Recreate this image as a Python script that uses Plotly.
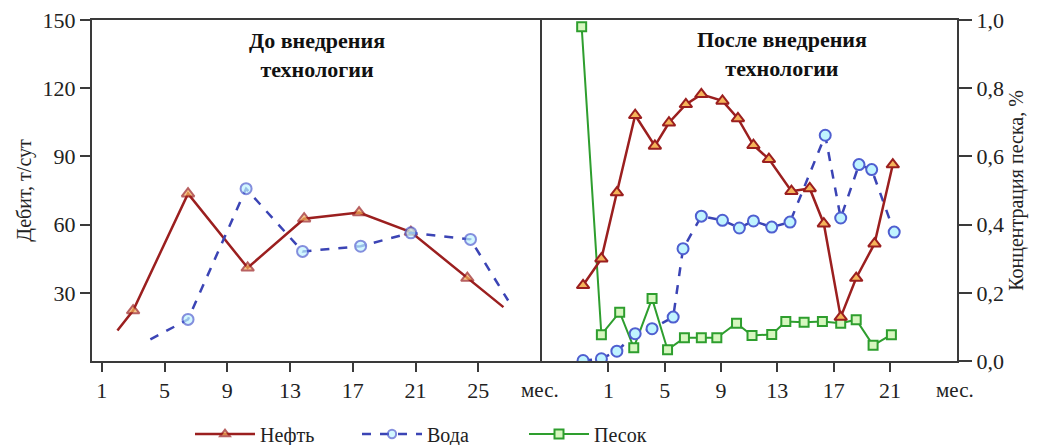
import plotly.graph_objects as go

# ---------------- data ----------------
left_months_oil = [2.0, 3.0, 6.5, 10.3, 13.9, 17.4, 20.7, 24.3, 26.6]
left_oil = [13.4, 22.2, 73.6, 41.0, 62.6, 65.3, 56.7, 36.5, 23.7]

left_months_water = [4.1, 6.5, 10.2, 13.8, 17.5, 20.7, 24.5, 26.9]
left_water = [9.5, 18.3, 75.8, 48.2, 50.5, 56.4, 53.5, 26.6]

right_months_oil = [-0.8, 0.5, 1.6, 2.9, 4.3, 5.3, 6.5, 7.6, 9.1, 10.2, 11.3, 12.4,
                    14.0, 15.3, 16.3, 17.5, 18.6, 19.9, 21.2]
right_oil = [33.3, 45.0, 74.1, 108.1, 94.6, 104.8, 112.9, 117.3, 114.4, 106.7, 94.9,
             88.8, 74.7, 75.9, 60.4, 19.3, 36.5, 51.6, 86.4]

right_months_water = [-0.8, 0.5, 1.6, 2.9, 4.1, 5.6, 6.3, 7.6, 9.1, 10.3, 11.3, 12.6,
                      13.9, 16.4, 17.5, 18.8, 19.7, 21.3]
right_water = [0.2, 1.0, 4.3, 12.0, 14.2, 19.3, 49.4, 63.7, 61.9, 58.5, 61.6, 58.9,
               61.1, 99.3, 62.9, 86.4, 84.2, 56.7]

sand_months = [-0.9, 0.5, 1.8, 2.8, 4.1, 5.2, 6.4, 7.6, 8.7, 10.1, 11.2, 12.6, 13.6,
               14.9, 16.2, 17.5, 18.6, 19.8, 21.1]
sand = [0.98, 0.077, 0.143, 0.039, 0.183, 0.033, 0.068, 0.068, 0.068, 0.111, 0.075,
        0.078, 0.116, 0.114, 0.116, 0.111, 0.121, 0.046, 0.077]

month_ticks_left = [1, 5, 9, 13, 17, 21, 25]
month_ticks_right = [1, 5, 9, 13, 17, 21]
rate_ticks = [30, 60, 90, 120, 150]
conc_ticks = [0.0, 0.2, 0.4, 0.6, 0.8, 1.0]
conc_labels = ["0,0", "0,2", "0,4", "0,6", "0,8", "1,0"]

# ---------------- styles ----------------
SERIF = "Liberation Serif, Times New Roman, serif"
OIL_C = "#9b1f1f"
OIL_FILL = "#f5b45a"
WAT_C = "#3b44b5"
WAT_MK = "#4f5fd0"
WAT_FILL = "#c0f4ff"
SAND_C = "#2e9e2e"
SAND_FILL = "#d6f7bf"
AX_C = "#3a3a3a"
TXT = "#222"

def end_sizes(n, s):
    return [0] + [s] * (n - 2) + [0]

fig = go.Figure()

# left panel
fig.add_trace(go.Scatter(
    x=left_months_oil, y=left_oil, xaxis="x", yaxis="y", mode="lines+markers",
    name="Нефть", legendgroup="oil", showlegend=True,
    line=dict(color=OIL_C, width=2.5),
    marker=dict(symbol="triangle-up", size=end_sizes(len(left_oil), 11), color=OIL_FILL,
                line=dict(color=OIL_C, width=2)),
))
fig.add_trace(go.Scatter(
    x=left_months_water, y=left_water, xaxis="x", yaxis="y", mode="lines+markers",
    name="Вода", legendgroup="water", showlegend=True,
    line=dict(color=WAT_C, width=2.5, dash="dash"),
    marker=dict(symbol="circle", size=end_sizes(len(left_water), 11), color=WAT_FILL,
                line=dict(color=WAT_MK, width=2)),
))

# right panel
fig.add_trace(go.Scatter(
    x=sand_months, y=sand, xaxis="x2", yaxis="y2", mode="lines+markers",
    name="Песок", legendgroup="sand", showlegend=True,
    line=dict(color=SAND_C, width=2),
    marker=dict(symbol="square", size=9, color=SAND_FILL,
                line=dict(color=SAND_C, width=2)),
))
fig.add_trace(go.Scatter(
    x=right_months_water, y=right_water, xaxis="x2", yaxis="y3", mode="lines+markers",
    name="Вода", legendgroup="water", showlegend=False,
    line=dict(color=WAT_C, width=2.5, dash="dash"),
    marker=dict(symbol="circle", size=11, color=WAT_FILL,
                line=dict(color=WAT_MK, width=2)),
))
fig.add_trace(go.Scatter(
    x=right_months_oil, y=right_oil, xaxis="x2", yaxis="y3", mode="lines+markers",
    name="Нефть", legendgroup="oil", showlegend=False,
    line=dict(color=OIL_C, width=2.5),
    marker=dict(symbol="triangle-up", size=11, color=OIL_FILL,
                line=dict(color=OIL_C, width=2)),
))

# page body has an 8px default margin: plot area in screen px is 92..957 x 20..361
split = (540 - 92) / 865.0
tickfont = dict(family=SERIF, size=22, color=TXT)

def px_x(px):
    return (px - 92) / 865.0

def px_y(py):
    return (361 - py) / 341.0

fig.update_layout(
    width=1032, height=437,
    margin=dict(l=84, r=83, t=12, b=84, autoexpand=False),
    paper_bgcolor="white", plot_bgcolor="white",
    font=dict(family=SERIF, size=20, color=TXT),
    xaxis=dict(domain=[0, split], range=[0.38, 28.93], anchor="y", automargin=False,
               tickvals=month_ticks_left, ticks="outside", ticklen=9, tickwidth=2,
               tickcolor=AX_C, showline=True, linecolor=AX_C, linewidth=2,
               mirror=True, showgrid=False, zeroline=False, tickfont=tickfont,
               ticklabeloverflow="allow"),
    xaxis2=dict(domain=[split, 1], range=[-3.86, 25.76], anchor="y2", automargin=False,
                tickvals=month_ticks_right, ticks="outside", ticklen=9, tickwidth=2,
                tickcolor=AX_C, showline=True, linecolor=AX_C, linewidth=2,
                mirror=True, showgrid=False, zeroline=False, tickfont=tickfont,
                ticklabeloverflow="allow"),
    yaxis=dict(range=[0, 150], anchor="x", automargin=False, tickvals=rate_ticks,
               ticks="outside", ticklen=10, tickwidth=2, tickcolor=AX_C, showline=True,
               linecolor=AX_C, linewidth=2, mirror=True, showgrid=False, zeroline=False,
               tickfont=tickfont, ticklabeloverflow="allow",
               title=dict(text="Дебит, т/сут", font=dict(family=SERIF, size=20, color=TXT),
                          standoff=6)),
    yaxis2=dict(range=[0, 1.0], anchor="x2", side="right", automargin=False,
                tickvals=conc_ticks, ticktext=conc_labels, ticks="outside", ticklen=13,
                tickwidth=2, tickcolor=AX_C, showline=True, linecolor=AX_C, linewidth=2,
                showgrid=False, zeroline=False, tickfont=tickfont,
                ticklabeloverflow="allow",
                title=dict(text="Концентрация песка, %",
                           font=dict(family=SERIF, size=20, color=TXT), standoff=6)),
    yaxis3=dict(range=[0, 150], anchor="x2", overlaying="y2", visible=False),
    legend=dict(orientation="h", x=px_x(190), xanchor="left", y=px_y(434), yanchor="middle",
                font=dict(family=SERIF, size=20, color=TXT), traceorder="normal",
                bgcolor="rgba(0,0,0,0)", itemwidth=60, entrywidth=92,
                entrywidthmode="pixels"),
    showlegend=True,
    annotations=[
        dict(text="<b>До внедрения<br>технологии</b>", xref="paper", yref="paper",
             x=px_x(317), y=px_y(55), xanchor="center", yanchor="middle",
             showarrow=False, font=dict(family=SERIF, size=22, color="#111")),
        dict(text="<b>После внедрения<br>технологии</b>", xref="paper", yref="paper",
             x=px_x(782), y=px_y(54), xanchor="center", yanchor="middle",
             showarrow=False, font=dict(family=SERIF, size=22, color="#111")),
        dict(text="мес.", xref="paper", yref="paper", x=px_x(540),
             y=px_y(390), xanchor="center", yanchor="middle", showarrow=False,
             font=dict(family=SERIF, size=21, color=TXT)),
        dict(text="мес.", xref="paper", yref="paper", x=px_x(955),
             y=px_y(390), xanchor="center", yanchor="middle", showarrow=False,
             font=dict(family=SERIF, size=21, color=TXT)),
    ],
)

fig.write_html("out.html")
